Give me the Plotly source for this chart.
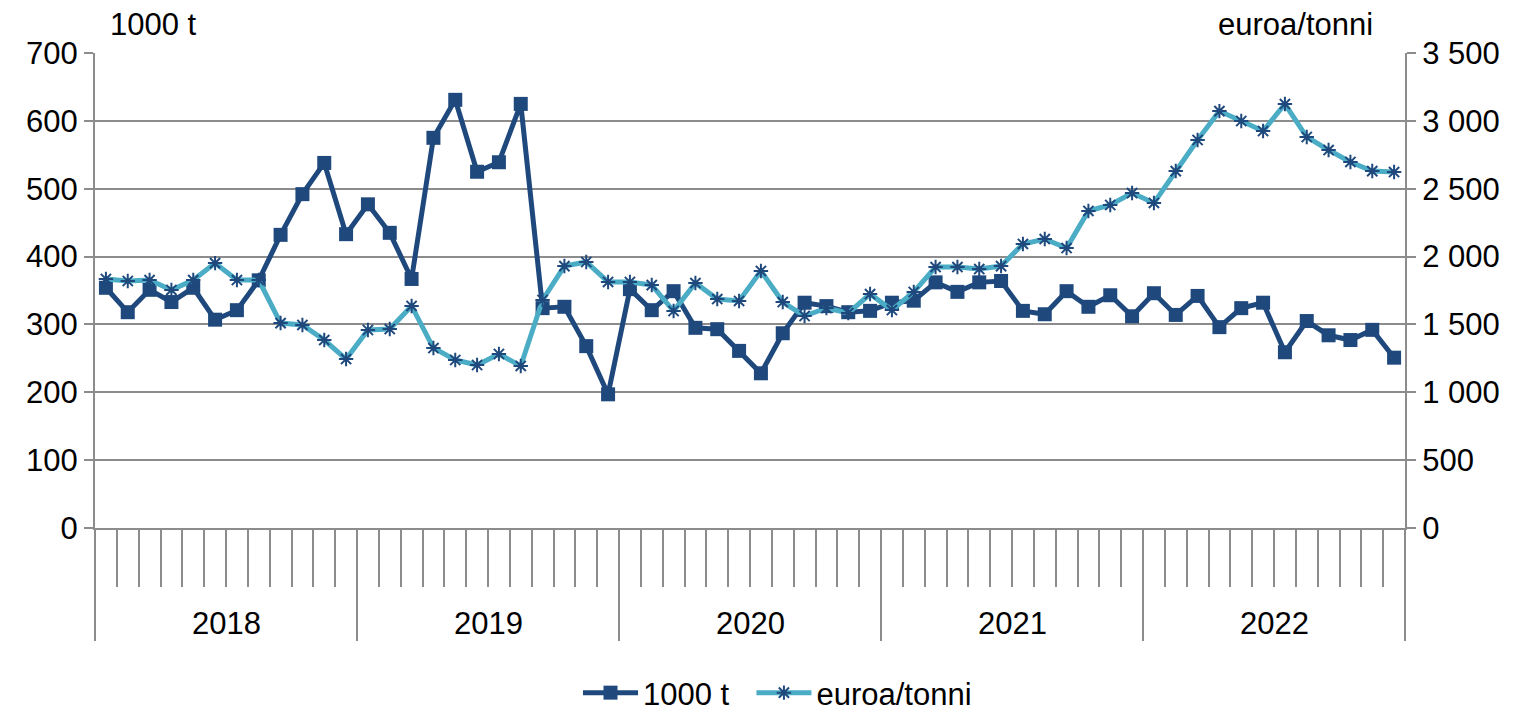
import plotly.graph_objects as go

# kuukausittaiset arvot 2018-2022
years = ["2018", "2019", "2020", "2021", "2022"]

tonnes = [
    354, 318, 351, 333, 354, 307, 321, 365, 432, 492, 538, 433,
    477, 435, 367, 575, 631, 525, 539, 625, 324, 326, 268, 197,
    352, 321, 349, 295, 293, 261, 228, 287, 332, 327, 318, 320,
    332, 335, 362, 348, 362, 364, 320, 315, 349, 326, 343, 312,
    346, 314, 342, 296, 324, 332, 259, 305, 284, 277, 292, 251,
]

price = [
    1835, 1820, 1827, 1754, 1827, 1952, 1827, 1827, 1510, 1496, 1385, 1245,
    1459, 1466, 1636, 1326, 1238, 1201, 1282, 1194, 1680, 1930, 1960, 1813,
    1813, 1790, 1599, 1805, 1687, 1673, 1894, 1665, 1562, 1621, 1584, 1724,
    1606, 1739, 1923, 1923, 1908, 1930, 2093, 2129, 2063, 2336, 2380, 2468,
    2395, 2630, 2859, 3072, 2999, 2925, 3124, 2881, 2785, 2697, 2630, 2623,
]

DARK = "#1F497D"
LIGHT = "#4BACC6"
GRID = "#8C8C8C"
FONT = "Liberation Sans, Arial, sans-serif"

months = list(range(len(tonnes)))
n = len(months)

fig = go.Figure()

fig.add_trace(go.Scatter(
    x=months, y=tonnes, name="1000 t\u00a0\u00a0",
    mode="lines+markers",
    line=dict(color=DARK, width=5),
    marker=dict(symbol="square", size=14, color=DARK),
    yaxis="y",
))

fig.add_trace(go.Scatter(
    x=months, y=price, name="euroa/tonni",
    mode="lines+markers",
    line=dict(color=LIGHT, width=5),
    marker=dict(symbol="asterisk-open", size=12, color=DARK,
                line=dict(color=DARK, width=2)),
    yaxis="y2",
))

# näkymätön jälki vuosirajojen akselille
fig.add_trace(go.Scatter(x=[0, n - 1], y=[0, 0], xaxis="x2", mode="markers",
                         marker=dict(opacity=0), showlegend=False, hoverinfo="skip"))

axis_font = dict(family=FONT, size=31, color="black")

fig.update_layout(
    width=1518, height=712, autosize=False,
    margin=dict(l=95, r=113, t=53, b=184, pad=0),
    plot_bgcolor="white", paper_bgcolor="white",
    font=axis_font,
    separators=", ",
    showlegend=True,
    legend=dict(orientation="h", x=0.521, xanchor="center",
                yref="container", y=(712 - 693) / 712, yanchor="middle",
                font=axis_font, itemwidth=55, traceorder="normal"),
    xaxis=dict(
        range=[-0.5, n - 0.5], automargin=False,
        tickmode="array", tickvals=[i - 0.5 for i in range(n + 1)],
        ticks="outside", ticklen=57, tickwidth=2, tickcolor=GRID,
        showticklabels=False, showgrid=False, zeroline=False,
        showline=True, linecolor=GRID, linewidth=2,
    ),
    xaxis2=dict(
        overlaying="x", anchor="y", side="bottom", automargin=False,
        range=[-0.5, n - 0.5],
        tickmode="array", tickvals=[i * 12 - 0.5 for i in range(len(years) + 1)],
        ticks="outside", ticklen=112, tickwidth=2, tickcolor=GRID,
        showticklabels=False, showgrid=False, zeroline=False, showline=False,
    ),
    yaxis=dict(
        range=[0, 700], dtick=100, tick0=0, automargin=False,
        showgrid=True, gridcolor=GRID, gridwidth=2,
        showline=True, linecolor=GRID, linewidth=2,
        ticks="outside", ticklen=9, tickwidth=2, tickcolor=GRID,
        zeroline=False, tickfont=axis_font,
    ),
    yaxis2=dict(
        overlaying="y", side="right", automargin=False,
        range=[0, 3500], dtick=500, tick0=0, tickformat=",d",
        showgrid=False,
        showline=True, linecolor=GRID, linewidth=2,
        ticks="outside", ticklen=9, tickwidth=2, tickcolor=GRID,
        zeroline=False, tickfont=axis_font,
    ),
)

# vuosien nimet
for i, yr in enumerate(years):
    fig.add_annotation(x=i * 12 + 5.5, xref="x", y=-0.2, yref="paper",
                       text=yr, showarrow=False, font=axis_font,
                       xanchor="center", yanchor="middle")

# yksiköt
fig.add_annotation(x=(153 - 95) / 1310, xref="paper", y=(528 - 25) / 475, yref="paper",
                   text="1000 t", showarrow=False, font=axis_font,
                   xanchor="center", yanchor="middle")
fig.add_annotation(x=(1295 - 95) / 1310, xref="paper", y=(528 - 25) / 475, yref="paper",
                   text="euroa/tonni", showarrow=False, font=axis_font,
                   xanchor="center", yanchor="middle")

fig.write_html("out.html", config={"displayModeBar": False},
               post_script="document.body.style.margin='0px';")
